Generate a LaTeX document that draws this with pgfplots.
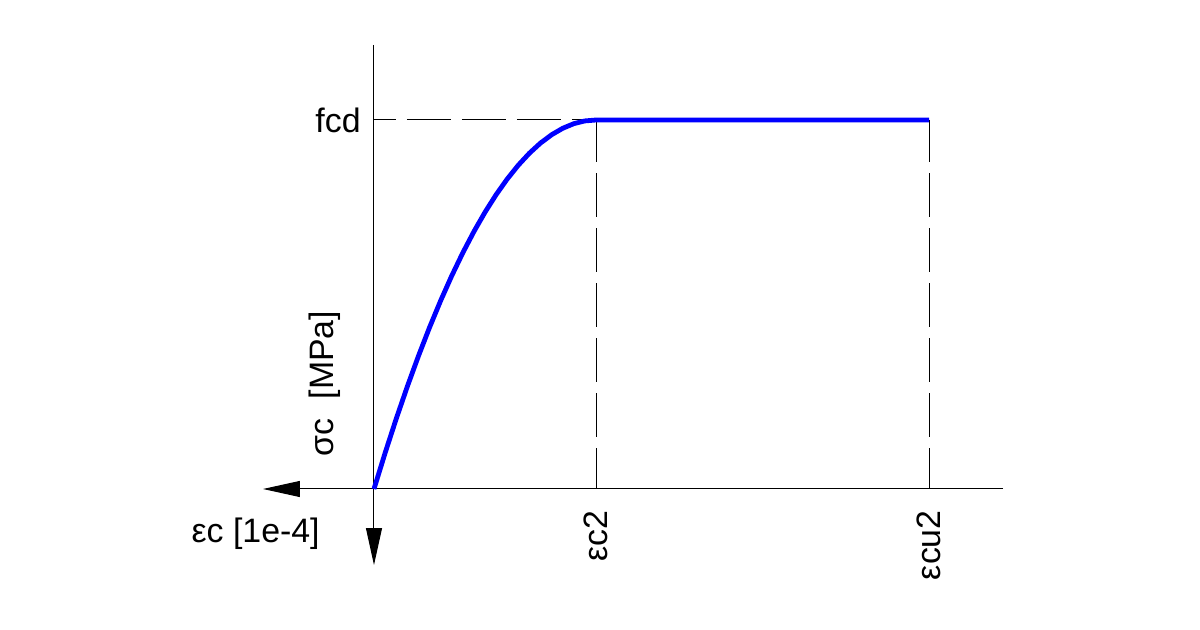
\documentclass[border=0pt]{standalone}
\usepackage{pgfplots}
\pgfplotsset{compat=1.18}
\usepackage{fontspec}
\setmainfont{Liberation Sans}
\usetikzlibrary{arrows.meta}
\begin{document}
\begin{tikzpicture}
\begin{axis}[
  width=600bp, height=315bp, scale only axis,
  hide axis, clip=false,
  xmin=-33.69, xmax=74.41,
  ymin=-0.3821, ymax=1.3252,
]
% bounding box
\path (rel axis cs:0,0) rectangle (rel axis cs:1,1);
% axes
\draw[line width=0.5bp, -{Triangle[length=18.5bp,width=8bp]}] (56.67,0) -- (-10.0,0);
\draw[line width=0.5bp, -{Triangle[length=18.5bp,width=8bp]}] (0,1.2033) -- (0,-0.206);
% dashed guides
\addplot[black, line width=0.5bp, dash pattern=on 22bp off 5.5bp, dash phase=11bp] coordinates {(0,1) (20,1)};
\addplot[black, line width=0.5bp, dash pattern=on 22bp off 5.5bp, dash phase=1.5bp] coordinates {(20,0) (20,1)};
\addplot[black, line width=0.5bp, dash pattern=on 22bp off 5.5bp, dash phase=1.5bp] coordinates {(50,0) (50,1)};
% stress-strain curve
\addplot[color={rgb,255:red,0;green,0;blue,255}, line width=2.4bp, line join=round] table {
x y
0 0
1 0.0975
2 0.19
3 0.2775
4 0.36
5 0.4375
6 0.51
7 0.5775
8 0.64
9 0.6975
10 0.75
11 0.7975
12 0.84
13 0.8775
14 0.91
15 0.9375
16 0.96
17 0.9775
18 0.99
19 0.9975
20 1
50 1
};
% labels
\node[anchor=east, inner sep=0pt, font=\fontsize{17}{20}\selectfont] at (-1.17,1) {fcd};
\node[anchor=base, rotate=90, inner sep=0pt, font=\fontsize{17}{20}\selectfont] at (-3.69,0.286) {σc\ \ [MPa]};
\node[anchor=base east, inner sep=0pt, font=\fontsize{17}{20}\selectfont] at (-4.86,-0.1463) {εc [1e-4]};
\node[anchor=east, rotate=90, inner sep=0pt, font=\fontsize{17}{20}\selectfont] at (20,-0.0569) {εc2};
\node[anchor=east, rotate=90, inner sep=0pt, font=\fontsize{17}{20}\selectfont] at (50,-0.0569) {εcu2};
\end{axis}
\end{tikzpicture}
\end{document}
